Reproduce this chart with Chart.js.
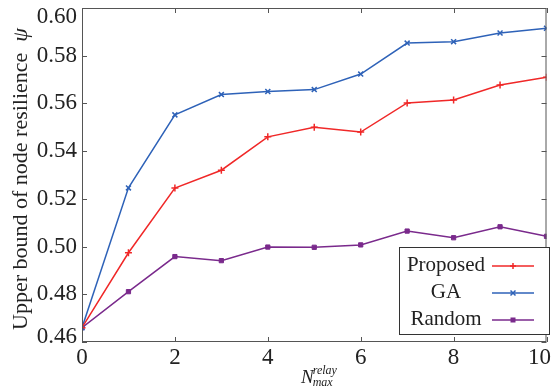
<!DOCTYPE html>
<html>
<head>
    <title>Node resilience</title>
    <script src="https://cdn.jsdelivr.net/npm/chart.js"></script>
    <style>
        body { margin: 0; background: #fff; }
        .chart-container { width: 552px; height: 390px; position: relative; }
    </style>
</head>
<body>
    <div class="chart-container">
        <canvas id="resChart"></canvas>
    </div>

    <script>
        // values
        const relayCounts = [0, 1, 2, 3, 4, 5, 6, 7, 8, 9, 10];
        const proposed = [0.466, 0.4974, 0.5245, 0.532, 0.546, 0.550, 0.548, 0.5602, 0.5614, 0.5677, 0.571];
        const ga = [0.466, 0.5246, 0.5552, 0.5637, 0.565, 0.5658, 0.5723, 0.5853, 0.5859, 0.5895, 0.5915];
        const random = [0.466, 0.4811, 0.4958, 0.4941, 0.4998, 0.4997, 0.5007, 0.5065, 0.5037, 0.5083, 0.5043];
        const xTicks = [0, 2, 4, 6, 8, 10];
        const yTicks = [0.46, 0.48, 0.50, 0.52, 0.54, 0.56, 0.58, 0.60];

        const serif = '"Liberation Serif", "DejaVu Serif", serif';

        function toPoints(arr) {
            return arr.map((v, i) => ({ x: relayCounts[i], y: v }));
        }

        // frame, inward ticks, tick labels (kept inside the figure), axis titles, legend box
        const decorations = {
            id: 'decorations',
            afterDraw(chart) {
                const ctx = chart.ctx;
                const a = chart.chartArea;
                const xs = chart.scales.x, ys = chart.scales.y;
                ctx.save();
                ctx.strokeStyle = '#555';
                ctx.lineWidth = 1;
                ctx.strokeRect(a.left + 0.5, a.top + 0.5, a.right - a.left - 1, a.bottom - a.top - 1);
                ctx.beginPath();
                xTicks.forEach(t => {
                    const px = Math.round(xs.getPixelForValue(t)) + 0.5;
                    ctx.moveTo(px, a.bottom); ctx.lineTo(px, a.bottom - 5);
                    ctx.moveTo(px, a.top); ctx.lineTo(px, a.top + 5);
                });
                yTicks.forEach(t => {
                    const py = Math.round(ys.getPixelForValue(t)) + 0.5;
                    ctx.moveTo(a.left, py); ctx.lineTo(a.left + 5, py);
                    ctx.moveTo(a.right, py); ctx.lineTo(a.right - 5, py);
                });
                ctx.stroke();

                // tick labels
                ctx.fillStyle = '#222';
                ctx.font = '23px ' + serif;
                ctx.textBaseline = 'middle';
                ctx.textAlign = 'right';
                yTicks.forEach(t => {
                    let py = ys.getPixelForValue(t);
                    py = Math.min(Math.max(py, 17), 337);
                    ctx.fillText(t.toFixed(2), a.left - 5, py);
                });
                ctx.textAlign = 'center';
                xTicks.forEach(t => {
                    const label = String(t);
                    const w = ctx.measureText(label).width;
                    let px = xs.getPixelForValue(t);
                    px = Math.min(px, chart.width - 1 - w / 2);
                    ctx.fillText(label, px, a.bottom + 16);
                });

                // y title
                ctx.save();
                ctx.translate(27, (a.top + a.bottom) / 2 + 4);
                ctx.rotate(-Math.PI / 2);
                ctx.textBaseline = 'alphabetic';
                ctx.textAlign = 'left';
                const main = 'Upper bound of node resilience  ';
                ctx.font = 'italic 22px ' + serif;
                const psiW = ctx.measureText('\u03C8').width;
                ctx.font = '22px ' + serif;
                const mainW = ctx.measureText(main).width;
                const start = -(mainW + psiW) / 2;
                ctx.fillText(main, start, 0);
                ctx.font = 'italic 22px ' + serif;
                ctx.fillText('\u03C8', start + mainW, 0);
                ctx.restore();

                // x title N_max^relay
                ctx.textBaseline = 'alphabetic';
                ctx.textAlign = 'left';
                ctx.font = 'italic 19px ' + serif;
                const nX = 301;
                const nW = ctx.measureText('N').width;
                ctx.fillText('N', nX, 383);
                ctx.font = 'italic 12px ' + serif;
                ctx.fillText('relay', nX + nW - 1, 374);
                ctx.fillText('max', nX + nW - 1, 386);

                // legend
                const lx = 399, ly = 247, lw = 151, lh = 88;
                ctx.fillStyle = '#fff';
                ctx.fillRect(lx, ly, lw, lh);
                ctx.strokeStyle = '#333';
                ctx.strokeRect(lx + 0.5, ly + 0.5, lw - 1, lh - 1);
                ctx.font = '21px ' + serif;
                ctx.textAlign = 'center';
                ctx.textBaseline = 'middle';
                chart.data.datasets.forEach((ds, i) => {
                    const rowY = ly + 18 + i * 27;
                    ctx.fillStyle = '#222';
                    ctx.fillText(ds.label, 446, rowY);
                    ctx.strokeStyle = ds.borderColor;
                    ctx.lineWidth = 1.5;
                    ctx.beginPath();
                    ctx.moveTo(492, rowY + 1); ctx.lineTo(534, rowY + 1);
                    ctx.stroke();
                    // marker
                    const mx = 513, my = rowY + 1;
                    ctx.beginPath();
                    if (ds.pointStyle === 'cross') {
                        ctx.moveTo(mx - 3, my); ctx.lineTo(mx + 3, my);
                        ctx.moveTo(mx, my - 3); ctx.lineTo(mx, my + 3);
                        ctx.stroke();
                    } else if (ds.pointStyle === 'crossRot') {
                        ctx.moveTo(mx - 2.5, my - 2.5); ctx.lineTo(mx + 2.5, my + 2.5);
                        ctx.moveTo(mx + 2.5, my - 2.5); ctx.lineTo(mx - 2.5, my + 2.5);
                        ctx.stroke();
                    } else {
                        ctx.fillStyle = ds.borderColor;
                        ctx.fillRect(mx - 2.5, my - 2.5, 5, 5);
                    }
                });
                ctx.restore();
            }
        };

        const ctx = document.getElementById('resChart').getContext('2d');
        new Chart(ctx, {
            type: 'line',
            data: {
                datasets: [
                    {
                        label: 'Proposed',
                        data: toPoints(proposed),
                        borderColor: '#f02828',
                        backgroundColor: '#f02828',
                        borderWidth: 1.5,
                        pointStyle: 'cross',
                        pointRadius: 3.5,
                        pointBorderWidth: 1.5
                    },
                    {
                        label: 'GA',
                        data: toPoints(ga),
                        borderColor: '#2e62b8',
                        backgroundColor: '#2e62b8',
                        borderWidth: 1.5,
                        pointStyle: 'crossRot',
                        pointRadius: 3.5,
                        pointBorderWidth: 1.5
                    },
                    {
                        label: 'Random',
                        data: toPoints(random),
                        borderColor: '#7a2a8c',
                        backgroundColor: '#7a2a8c',
                        borderWidth: 1.5,
                        pointStyle: 'rect',
                        pointRadius: 3,
                        pointBorderWidth: 1
                    }
                ]
            },
            options: {
                responsive: true,
                maintainAspectRatio: false,
                animation: false,
                layout: { padding: { top: 8, right: 2, left: 0, bottom: 0 } },
                scales: {
                    x: {
                        type: 'linear',
                        min: 0,
                        max: 10,
                        grid: { display: false },
                        border: { display: false },
                        afterBuildTicks(scale) {
                            scale.ticks = xTicks.map(v => ({ value: v }));
                        },
                        afterFit(scale) {
                            scale.height = 48;
                            scale.paddingLeft = 0;
                            scale.paddingRight = 0;
                        },
                        ticks: { display: false }
                    },
                    y: {
                        min: 0.46,
                        max: 0.60,
                        grid: { display: false },
                        border: { display: false },
                        afterBuildTicks(scale) {
                            scale.ticks = yTicks.map(v => ({ value: v }));
                        },
                        afterFit(scale) {
                            scale.width = 82;
                            scale.paddingTop = 0;
                            scale.paddingBottom = 0;
                        },
                        ticks: { display: false }
                    }
                },
                plugins: {
                    legend: { display: false },
                    tooltip: { enabled: false }
                }
            },
            plugins: [decorations]
        });
    </script>
</body>
</html>
